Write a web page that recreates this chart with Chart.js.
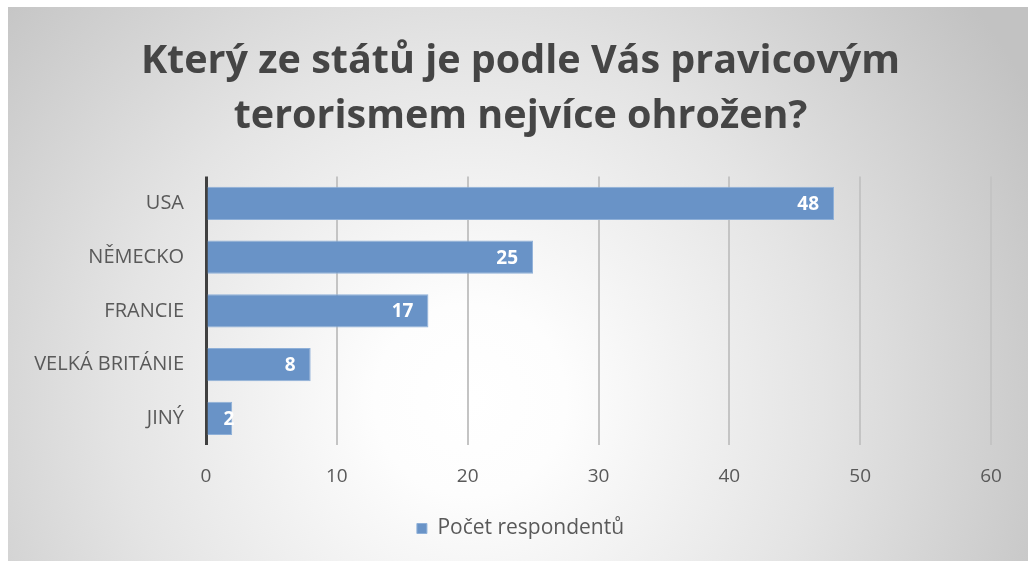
<!DOCTYPE html>
<html>
<head>
<meta charset="utf-8">
<script src="https://cdn.jsdelivr.net/npm/chart.js@4/dist/chart.umd.min.js"></script>
<style>
html,body{margin:0;padding:0;background:#fff;}
#wrap{width:1028px;height:561px;position:relative;}
</style>
</head>
<body>
<div id="wrap"><canvas id="c" width="1028" height="561"></canvas></div>
<script>
const categories = ['USA', 'NĚMECKO', 'FRANCIE', 'VELKÁ BRITÁNIE', 'JINÝ'];
const seriesName = 'Počet respondentů';
const values = [48, 25, 17, 8, 2];
const titleLines = ['Který ze států je podle Vás pravicovým', 'terorismem nejvíce ohrožen?'];
const xMin = 0, xMax = 60, xStep = 10;

const FONT = '"Open Sans", "Noto Sans", sans-serif';
const TXT = '#595959';
const BAR = '#6993c7';

const bgPlugin = {
  id: 'bg',
  beforeDraw(chart) {
    const ctx = chart.ctx;
    ctx.save();
    ctx.fillStyle = '#ffffff';
    ctx.fillRect(0, 0, chart.width, chart.height);
    const g = ctx.createRadialGradient(470, 400, 0, 470, 400, 640);
    g.addColorStop(0, '#ffffff');
    g.addColorStop(0.15, '#fdfdfd');
    g.addColorStop(0.55, '#e4e4e4');
    g.addColorStop(1, '#c2c2c2');
    ctx.fillStyle = g;
    ctx.fillRect(8, 7, chart.width - 8, chart.height - 7);
    ctx.restore();
  }
};

const boxShift = {
  id: 'boxShift',
  afterLayout(chart) {
    if (chart.legend) { chart.legend.left += 21; chart.legend.right += 21; }
    if (chart.titleBlock) { chart.titleBlock.left += 21; chart.titleBlock.right += 21; }
  }
};

const labelPlugin = {
  id: 'barLabels',
  afterDatasetsDraw(chart) {
    const ctx = chart.ctx;
    const meta = chart.getDatasetMeta(0);
    ctx.save();
    ctx.font = 'bold 19px ' + FONT;
    ctx.fillStyle = '#ffffff';
    ctx.textAlign = 'right';
    ctx.textBaseline = 'middle';
    meta.data.forEach((bar, i) => {
      const txt = String(chart.data.datasets[0].data[i]);
      const w = ctx.measureText(txt).width;
      const right = Math.max(bar.x - 15, bar.base + w + 16);
      ctx.fillText(txt, right, bar.y + 1);
    });
    ctx.restore();
  }
};

new Chart(document.getElementById('c'), {
  type: 'bar',
  data: {
    labels: categories,
    datasets: [{
      label: seriesName,
      data: values,
      backgroundColor: BAR,
      borderColor: '#8fb0d8',
      borderWidth: 1,
      barPercentage: 0.62,
      categoryPercentage: 1.0
    }]
  },
  options: {
    indexAxis: 'y',
    responsive: false,
    animation: false,
    devicePixelRatio: 1,
    layout: { padding: { left: 8, right: 37, top: 0, bottom: 12 } },
    scales: {
      x: {
        min: xMin, max: xMax,
        ticks: { stepSize: xStep, color: TXT, font: { family: FONT, size: 19 }, padding: 20 },
        grid: {
          drawTicks: false,
          color: (c) => c.tick && c.tick.value === 0 ? '#404040' : '#c4c4c4',
          lineWidth: (c) => c.tick && c.tick.value === 0 ? 3 : 2
        },
        border: { display: false }
      },
      y: {
        afterFit(scale) { scale.width = 198; },
        ticks: { color: TXT, font: { family: FONT, size: 20 }, padding: 22 },
        grid: { display: false, drawTicks: false },
        border: { display: false }
      }
    },
    plugins: {
      title: {
        display: true,
        text: titleLines,
        color: '#454545',
        font: { family: FONT, size: 39.5, weight: 'bold', lineHeight: 1.4 },
        padding: { top: 34, bottom: 32 }
      },
      legend: {
        position: 'bottom',
        labels: {
          color: TXT,
          font: { family: FONT, size: 21 },
          boxWidth: 10, boxHeight: 10,
          padding: 10
        }
      },
      tooltip: { enabled: false }
    }
  },
  plugins: [bgPlugin, boxShift, labelPlugin]
});
</script>
</body>
</html>
